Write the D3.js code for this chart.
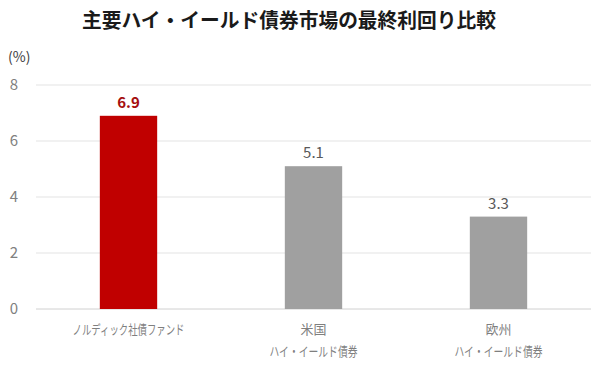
<!DOCTYPE html>
<html><head><meta charset="utf-8">
<script src="https://cdn.jsdelivr.net/npm/d3@7"></script>
<style>body{margin:0;background:#fff}svg{display:block}</style>
</head><body><svg id="c" width="600" height="366"></svg>
<script>
const title = "主要ハイ・イールド債券市場の最終利回り比較";
const categories = [["ノルディック社債ファンド"], ["米国", "ハイ・イールド債券"], ["欧州", "ハイ・イールド債券"]];
const values = [6.9, 5.1, 3.3];
const barColors = ["#c00000", "#a0a0a0", "#a0a0a0"];
const labelColors = ["#a50f0f", "#595959", "#595959"];
const yTicks = [0, 2, 4, 6, 8];
const unit = "(%)";

const font = "'Noto Sans CJK JP', 'Noto Sans', sans-serif";
const svg = d3.select("#c");
const x = d3.scaleBand().domain(d3.range(values.length)).range([36, 591]).paddingInner(0.69).paddingOuter(0.345);
const y = d3.scaleLinear().domain([0, 8]).range([309, 85]);

svg.append("text").attr("x", 289).attr("y", 28).attr("text-anchor", "middle")
  .attr("font-family", font).attr("font-weight", 700).attr("font-size", 20).attr("fill", "#1a1a1a")
  .attr("textLength", 414).attr("lengthAdjust", "spacingAndGlyphs").text(title);
svg.append("text").attr("x", 8).attr("y", 62).attr("font-family", font).attr("font-size", 14).attr("fill", "#404040").text(unit);

svg.append("g").selectAll("line").data(yTicks).join("line")
  .attr("x1", 36).attr("x2", 591).attr("y1", d => y(d)).attr("y2", d => y(d))
  .attr("stroke", d => d === 0 ? "#d0d0d0" : "#e3e3e3").attr("stroke-width", 1);
svg.append("g").selectAll("text").data(yTicks).join("text")
  .attr("x", 14).attr("y", d => y(d) + 5).attr("text-anchor", "middle")
  .attr("font-family", font).attr("font-size", 15).attr("fill", "#808080").text(d => d);

svg.append("g").selectAll("rect").data(values).join("rect")
  .attr("x", (d, i) => x(i)).attr("width", x.bandwidth())
  .attr("y", d => y(d)).attr("height", d => y(0) - y(d))
  .attr("fill", (d, i) => barColors[i]);

svg.append("g").selectAll("text").data(values).join("text")
  .attr("x", (d, i) => x(i) + x.bandwidth() / 2).attr("y", d => y(d) - 8)
  .attr("text-anchor", "middle").attr("font-family", font)
  .attr("font-size", 15).attr("font-weight", (d, i) => i === 0 ? 700 : 400)
  .attr("fill", (d, i) => labelColors[i]).text(d => d.toFixed(1));

const cat = svg.append("g").selectAll("g").data(categories).join("g");
cat.each(function(lines, i) {
  d3.select(this).selectAll("text").data(lines).join("text")
    .attr("x", x(i) + x.bandwidth() / 2).attr("y", (l, j) => 334 + j * 22)
    .attr("text-anchor", "middle").attr("font-family", font).attr("font-size", 13).attr("fill", "#7f7f7f")
    .each(function(l) { if (l.length > 4) d3.select(this).attr("textLength", l.length > 9 ? 112 : 88).attr("lengthAdjust", "spacingAndGlyphs"); })
    .text(l => l);
});
</script></body></html>
